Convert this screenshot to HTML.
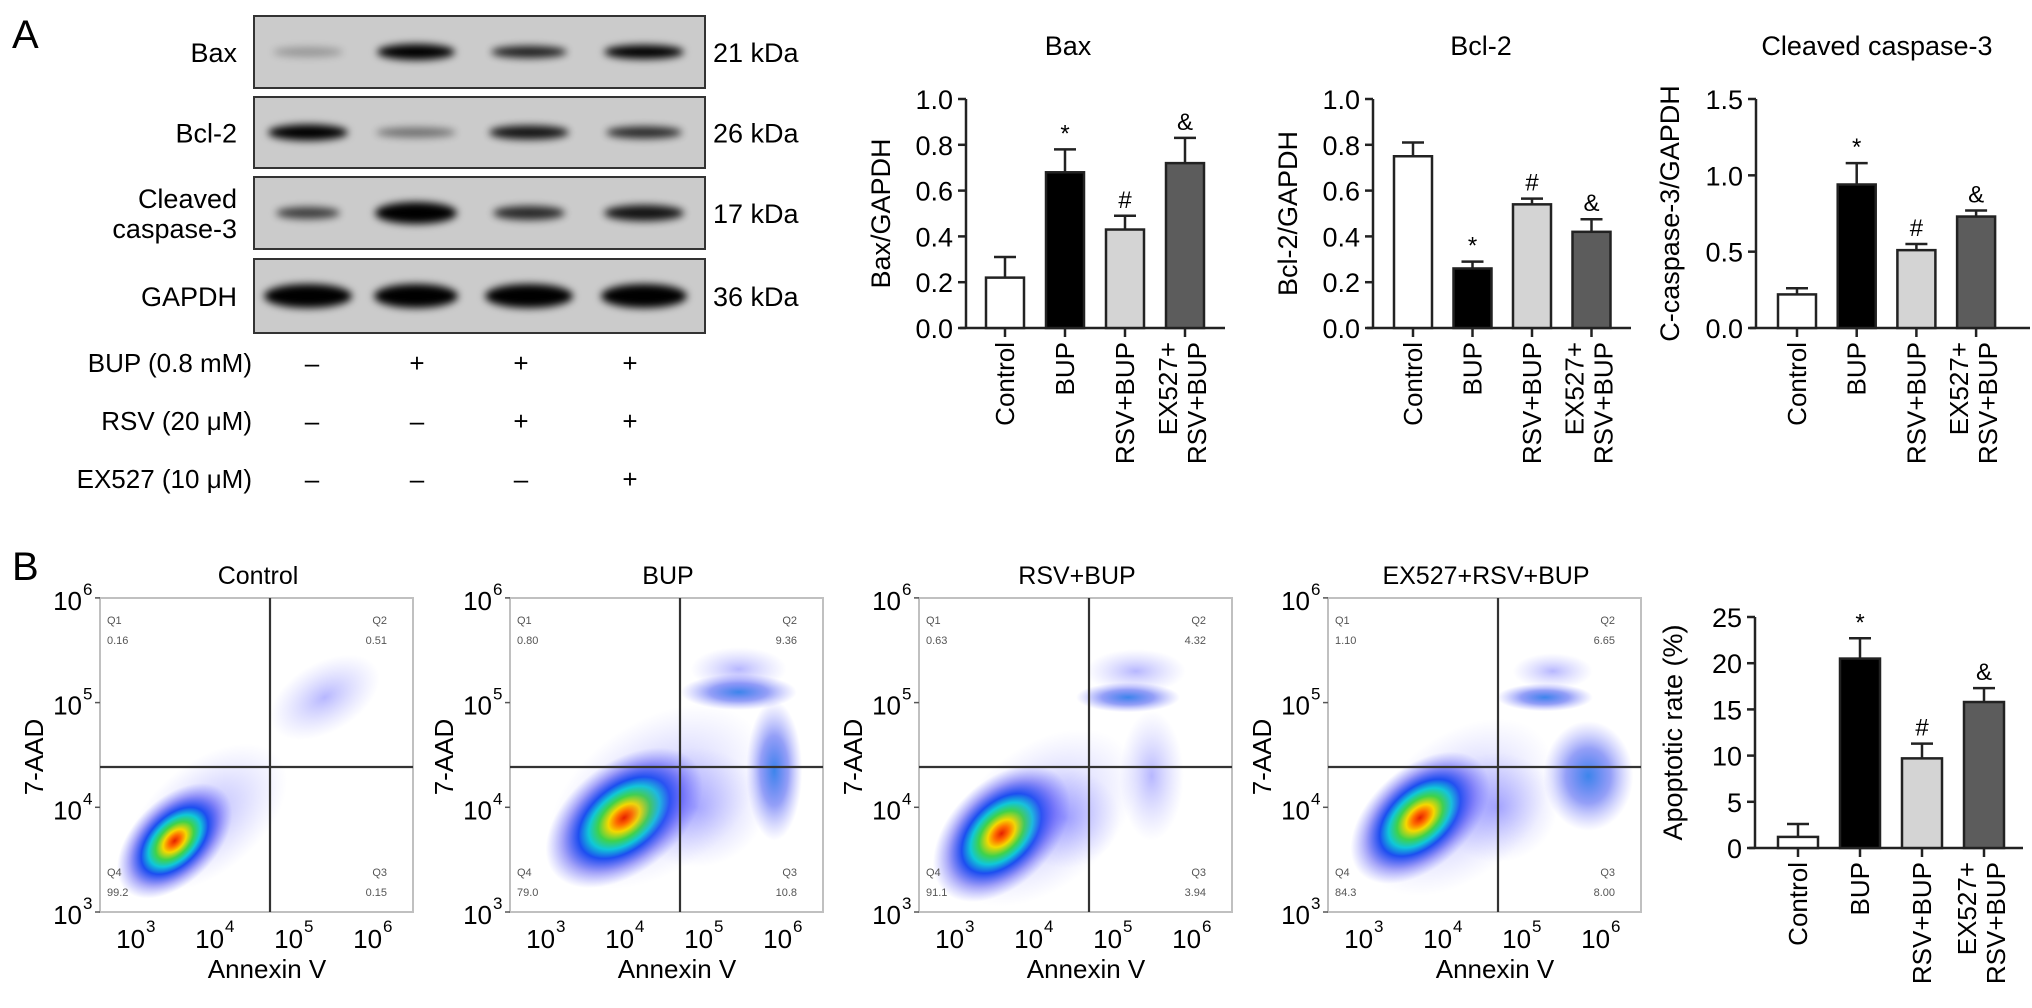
<!DOCTYPE html>
<html><head><meta charset="utf-8"><style>
html,body{margin:0;padding:0;background:#fff;}
svg{display:block;font-family:"Liberation Sans",Arial,sans-serif;}
</style></head><body>
<svg id="fig" width="2032" height="1008" viewBox="0 0 2032 1008">
<defs>
<filter id="blur3" x="-50%" y="-100%" width="200%" height="300%"><feGaussianBlur stdDeviation="4"/></filter>
<radialGradient id="dens">
<stop offset="0" stop-color="#e52000"/>
<stop offset="0.1" stop-color="#ff6a00"/>
<stop offset="0.2" stop-color="#f5d800"/>
<stop offset="0.33" stop-color="#3fd24a"/>
<stop offset="0.45" stop-color="#10c8d8"/>
<stop offset="0.58" stop-color="#1c4ef0"/>
<stop offset="0.78" stop-color="#3a3af0" stop-opacity="0.45"/>
<stop offset="1" stop-color="#6060ff" stop-opacity="0"/>
</radialGradient>
<radialGradient id="sparse">
<stop offset="0" stop-color="#1a70e8" stop-opacity="0.85"/>
<stop offset="0.5" stop-color="#2a40f0" stop-opacity="0.5"/>
<stop offset="1" stop-color="#6a6aff" stop-opacity="0"/>
</radialGradient>
<radialGradient id="faint">
<stop offset="0" stop-color="#4a4aff" stop-opacity="0.4"/>
<stop offset="1" stop-color="#8080ff" stop-opacity="0"/>
</radialGradient>
</defs>

<text x="12" y="48" font-size="40">A</text>
<text x="12" y="580" font-size="40">B</text>

<g id="blots"></g>
<g id="bars"></g>
<g id="flows"></g>
</svg>
<script>
// ---------- data ----------
const categories = ["Control", "BUP", "RSV+BUP", "EX527+|RSV+BUP"];
const baxValues = [0.22, 0.68, 0.43, 0.72];
const baxErrors = [0.09, 0.10, 0.06, 0.11];
const bcl2Values = [0.75, 0.26, 0.54, 0.42];
const bcl2Errors = [0.06, 0.03, 0.025, 0.055];
const caspValues = [0.22, 0.94, 0.51, 0.73];
const caspErrors = [0.04, 0.14, 0.04, 0.04];
const apopValues = [1.2, 20.5, 9.7, 15.8];
const apopErrors = [1.4, 2.2, 1.6, 1.5];
const sigMarks = ["", "*", "#", "&"];
const sigBcl2 = ["", "*", "#", "&"];
const baxTicks = [0, 0.2, 0.4, 0.6, 0.8, 1.0];
const caspTicks = [0, 0.5, 1.0, 1.5];
const apopTicks = [0, 5, 10, 15, 20, 25];
const flowTitles = ["Control", "BUP", "RSV+BUP", "EX527+RSV+BUP"];
const q1Vals = ["0.16", "0.80", "0.63", "1.10"];
const q2Vals = ["0.51", "9.36", "4.32", "6.65"];
const q3Vals = ["0.15", "10.8", "3.94", "8.00"];
const q4Vals = ["99.2", "79.0", "91.1", "84.3"];
const blotProteins = ["Bax", "Bcl-2", "Cleaved|caspase-3", "GAPDH"];
const blotKda = ["21 kDa", "26 kDa", "17 kDa", "36 kDa"];
const bandIntensity = [[0.25, 1, 0.85, 1], [1, 0.45, 0.9, 0.8], [0.7, 1, 0.8, 0.9], [1, 1, 1, 1]];
const treatments = ["BUP (0.8 mM)", "RSV (20 \u03bcM)", "EX527 (10 \u03bcM)"];
const treatSigns = [["\u2013", "+", "+", "+"], ["\u2013", "\u2013", "+", "+"], ["\u2013", "\u2013", "\u2013", "+"]];

const NS = "http://www.w3.org/2000/svg";
function mk(parent, tag, attrs, text) {
  const e = document.createElementNS(NS, tag);
  for (const k in attrs) e.setAttribute(k, attrs[k]);
  if (text !== undefined) e.textContent = text;
  parent.appendChild(e);
  return e;
}

// ---------- blots ----------
const blots = document.getElementById("blots");
const boxY = [16, 97, 177, 259], boxH = [72, 71, 72, 74];
const laneX = [308, 416, 529, 644];
const bandW = [[70, 78, 76, 80], [80, 80, 80, 76], [64, 82, 72, 80], [88, 84, 88, 86]];
const bandH = [[10, 16, 12, 14], [16, 10, 14, 12], [12, 22, 14, 16], [24, 24, 24, 24]];
blotProteins.forEach((p, i) => {
  const box = mk(blots, "rect", {x: 254, y: boxY[i], width: 451, height: boxH[i], fill: "#cbcbcb", stroke: "#333", "stroke-width": 2});
  
  
  const cy = boxY[i] + boxH[i] / 2;
  laneX.forEach((lx, j) => {
    const b = mk(blots, "ellipse", {cx: lx, cy: cy, rx: bandW[i][j] / 2, ry: bandH[i][j] / 2, fill: "#000", opacity: bandIntensity[i][j], filter: "url(#blur3)"});
    
    
  });
  const parts = p.split("|");
  const lbl = mk(blots, "text", {x: 237, y: cy + 10 - (parts.length - 1) * 15, "font-size": 27, "text-anchor": "end"});
  
  
  parts.forEach((t, k) => mk(lbl, "tspan", {x: 237, dy: k ? 30 : 0}, t));
  const kd = mk(blots, "text", {x: 713, y: cy + 10, "font-size": 27}, blotKda[i]);
  
  
});
const rowY = [372, 430, 488];
treatments.forEach((t, i) => {
  const tl = mk(blots, "text", {x: 252, y: rowY[i], "font-size": 26, "text-anchor": "end"}, t);
  
  
  treatSigns[i].forEach((s, j) => {
    const st = mk(blots, "text", {x: [312, 417, 521, 630][j], y: rowY[i], "font-size": 26, "text-anchor": "middle"}, s);
    
    
  });
});

// ---------- bar charts ----------
const bars = document.getElementById("bars");
const fills = ["#ffffff", "#000000", "#d4d4d4", "#5c5c5c"];
function barChart(cfg) {
  const g = mk(bars, "g", {});
  
  
  const maxV = cfg.ticks[cfg.ticks.length - 1];
  const yScale = v => cfg.y0 - (v / maxV) * (cfg.y0 - cfg.yTop);
  const xScale = i => cfg.x0 + cfg.first + i * cfg.pitch;
  if (cfg.title) {
    const t = mk(g, "text", {x: cfg.titleX, y: 55, "font-size": 27, "text-anchor": "middle"}, cfg.title);
    
    
  }
  mk(g, "line", {x1: cfg.x0, y1: cfg.yTop, x2: cfg.x0, y2: cfg.y0, stroke: "#222", "stroke-width": 2.5});
  mk(g, "line", {x1: cfg.x0 - 6, y1: cfg.y0, x2: cfg.xEnd, y2: cfg.y0, stroke: "#222", "stroke-width": 2.5});
  cfg.ticks.forEach(v => {
    const y = yScale(v);
    mk(g, "line", {x1: cfg.x0 - 8, y1: y, x2: cfg.x0, y2: y, stroke: "#222", "stroke-width": 2.5});
    const tl = mk(g, "text", {x: cfg.x0 - 13, y: y + 10, "font-size": 27, "text-anchor": "end"}, cfg.fmt(v));
    
    
  });
  const yl = mk(g, "text", {x: 0, y: 0, "font-size": 27, "text-anchor": "middle", transform: `translate(${cfg.x0 - cfg.ylOff},${(cfg.y0 + cfg.yTop) / 2}) rotate(-90)`}, cfg.ylabel);
  
  
  cfg.values.forEach((v, i) => {
    const cx = xScale(i), w = cfg.bw;
    const top = yScale(v), errTop = yScale(v + cfg.errors[i]);
    mk(g, "line", {x1: cx, y1: top, x2: cx, y2: errTop, stroke: "#222", "stroke-width": 2.5});
    mk(g, "line", {x1: cx - 11, y1: errTop, x2: cx + 11, y2: errTop, stroke: "#222", "stroke-width": 2.5});
    const r = mk(g, "rect", {x: cx - w / 2, y: top, width: w, height: cfg.y0 - top, fill: fills[i], stroke: "#222", "stroke-width": 2.5});
    
    
    if (cfg.sig[i]) {
      const s = mk(g, "text", {x: cx, y: errTop - 8, "font-size": 24, "text-anchor": "middle"}, cfg.sig[i]);
      
      
    }
    mk(g, "line", {x1: cx, y1: cfg.y0, x2: cx, y2: cfg.y0 + 9, stroke: "#222", "stroke-width": 2.5});
    const parts = categories[i].split("|");
    parts.forEach((t, k) => {
      const lx = parts.length > 1 ? cx + (k ? 12 : -17) : cx;
      const cl = mk(g, "text", {x: 0, y: 0, "font-size": 26, "text-anchor": "end", transform: `translate(${lx + 9},${cfg.y0 + 14}) rotate(-90)`}, t);
      
      
    });
  });
}
barChart({name: "bax-chart", title: "Bax", titleX: 1068, x0: 966, y0: 328, yTop: 99, xEnd: 1225, first: 39, pitch: 60, bw: 38,
  ticks: baxTicks, fmt: v => v.toFixed(1), values: baxValues, errors: baxErrors, sig: sigMarks, ylabel: "Bax/GAPDH", ylOff: 76});
barChart({name: "bcl2-chart", title: "Bcl-2", titleX: 1481, x0: 1373, y0: 328, yTop: 99, xEnd: 1631, first: 40, pitch: 59.5, bw: 38,
  ticks: baxTicks, fmt: v => v.toFixed(1), values: bcl2Values, errors: bcl2Errors, sig: sigBcl2, ylabel: "Bcl-2/GAPDH", ylOff: 76});
barChart({name: "caspase-chart", title: "Cleaved caspase-3", titleX: 1877, x0: 1756, y0: 328, yTop: 99, xEnd: 2030, first: 41, pitch: 59.7, bw: 38,
  ticks: caspTicks, fmt: v => v.toFixed(1), values: caspValues, errors: caspErrors, sig: sigMarks, ylabel: "C-caspase-3/GAPDH", ylOff: 77});
barChart({name: "apoptosis-chart", title: "", x0: 1755, y0: 848, yTop: 617, xEnd: 2023, first: 43, pitch: 62, bw: 40,
  ticks: apopTicks, fmt: v => String(v), values: apopValues, errors: apopErrors, sig: sigMarks, ylabel: "Apoptotic rate (%)", ylOff: 73});

// ---------- flow plots ----------
const flows = document.getElementById("flows");
const boxLeft = [100, 510, 919, 1328];
const BT = 598, BB = 912, BW = 313;
// population blobs: [log10 x, log10 y, rx, ry, rot, gradient]
const pops = [
  [[3.8, 3.9, 95, 55, -40, "faint"], [3.4, 3.68, 70, 42, -45, "dens"], [5.3, 5.05, 60, 35, -30, "faint"]],
  [[4.3, 4.1, 120, 75, -35, "faint"], [3.9, 3.9, 90, 55, -38, "dens"], [5.35, 5.1, 58, 18, 0, "sparse"], [5.35, 5.32, 48, 22, 0, "faint"], [5.8, 4.35, 28, 70, 0, "sparse"], [4.8, 4.0, 70, 60, 0, "faint"]],
  [[4.0, 3.9, 110, 70, -40, "faint"], [3.5, 3.75, 82, 52, -45, "dens"], [5.1, 5.05, 52, 15, 0, "sparse"], [5.2, 5.3, 50, 22, 0, "faint"], [5.4, 4.3, 32, 65, 0, "faint"], [4.3, 3.9, 55, 50, 0, "faint"]],
  [[4.1, 4.0, 110, 70, -40, "faint"], [3.62, 3.9, 82, 50, -42, "dens"], [5.2, 5.05, 48, 14, 0, "sparse"], [5.3, 5.3, 40, 18, 0, "faint"], [5.75, 4.3, 45, 55, 0, "sparse"], [4.6, 4.0, 60, 55, 0, "faint"]]
];
const decX = 79, decY = 104.7, xMinLog = 2.455;
flowTitles.forEach((title, p) => {
  const L = boxLeft[p];
  const g = mk(flows, "g", {});
  
  
  const sx = lg => L + (lg - xMinLog) * decX;
  const sy = lg => BB - (lg - 3) * decY;
  const clipId = "clip" + p;
  const cp = mk(g, "clipPath", {id: clipId});
  mk(cp, "rect", {x: L, y: BT, width: BW, height: BB - BT});
  const inner = mk(g, "g", {"clip-path": `url(#${clipId})`});
  pops[p].forEach(b => {
    const e = mk(inner, "ellipse", {cx: 0, cy: 0, rx: b[2], ry: b[3], fill: `url(#${b[5]})`, transform: `translate(${sx(b[0])},${sy(b[1])}) rotate(${b[4]})`});
    
    
  });
  mk(g, "rect", {x: L, y: BT, width: BW, height: BB - BT, fill: "none", stroke: "#c0c0c0", "stroke-width": 2});
  const gx = L + 170, gy = 767;
  mk(g, "line", {x1: gx, y1: BT, x2: gx, y2: BB, stroke: "#333", "stroke-width": 2.2});
  mk(g, "line", {x1: L, y1: gy, x2: L + BW, y2: gy, stroke: "#333", "stroke-width": 2.2});
  const t = mk(g, "text", {x: L + 158, y: 584, "font-size": 25, "text-anchor": "middle"}, title);
  
  
  [3, 4, 5, 6].forEach(d => {
    const yy = sy(d);
    mk(g, "line", {x1: L - 5, y1: yy, x2: L, y2: yy, stroke: "#555", "stroke-width": 1.5});
    const yl = mk(g, "text", {x: L - 18, y: yy + 12, "font-size": 26, "text-anchor": "end"});
    
    
    mk(yl, "tspan", {}, "10");
    const sup = mk(g, "text", {x: L - 17, y: yy - 3, "font-size": 17}, String(d));
    
    
    const xx = sx(d);
    const xl = mk(g, "text", {x: xx + 2, y: 948, "font-size": 26, "text-anchor": "end"}, "10");
    
    
    const xs = mk(g, "text", {x: xx + 3, y: 932, "font-size": 17}, String(d));
    
    
  });
  const ax = mk(g, "text", {x: L + 167, y: 978, "font-size": 26, "text-anchor": "middle"}, "Annexin V");
  
  
  const ay = mk(g, "text", {x: 0, y: 0, "font-size": 26, "text-anchor": "middle", transform: `translate(${L - 57},${757}) rotate(-90)`}, "7-AAD");
  
  
  const qs = [["Q1", q1Vals[p], L + 7, 624, "start"], ["Q2", q2Vals[p], L + BW - 26, 624, "end"],
              ["Q4", q4Vals[p], L + 7, 876, "start"], ["Q3", q3Vals[p], L + BW - 26, 876, "end"]];
  qs.forEach(q => {
    const a = mk(g, "text", {x: q[2], y: q[3], "font-size": 11, fill: "#555", "text-anchor": q[4]}, q[0]);
    
    
    const b = mk(g, "text", {x: q[2], y: q[3] + 20, "font-size": 11, fill: "#555", "text-anchor": q[4]}, q[1]);
    
    
  });
});
</script>
</body></html>
